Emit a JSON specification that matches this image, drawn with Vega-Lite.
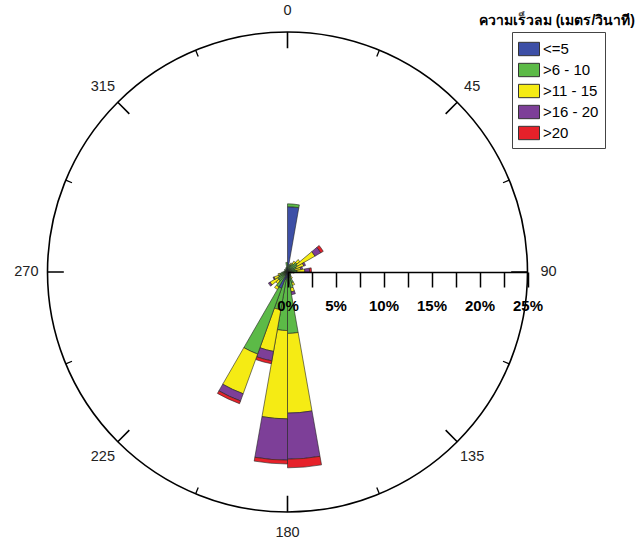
{
  "$schema": "https://vega.github.io/schema/vega-lite/v6.json",
  "autosize": "none",
  "width": 575,
  "height": 534,
  "padding": {"left": 0, "top": 5, "right": 64, "bottom": 0},
  "background": "white",
  "config": {"view": {"stroke": null}, "font": "Liberation Sans"},
  "title": {
    "text": "ความเร็วลม (เมตร/วินาที)",
    "anchor": "end",
    "frame": "group",
    "orient": "top",
    "offset": 0,
    "dx": 60,
    "dy": 36,
    "baseline": "alphabetic",
    "fontSize": 14,
    "fontWeight": "bold",
    "color": "black",
    "font": "Liberation Sans, DejaVu Sans, sans-serif"
  },
  "datasets": {
    "rose": [
      {"d0": 0, "d1": 10, "s": "<=5", "k": 1, "v": 6.8},
      {"d0": 0, "d1": 10, "s": ">6 - 10", "k": 2, "v": 0.3},
      {"d0": 10, "d1": 20, "s": "<=5", "k": 1, "v": 0.3},
      {"d0": 10, "d1": 20, "s": ">6 - 10", "k": 2, "v": 0.5},
      {"d0": 20, "d1": 30, "s": ">6 - 10", "k": 2, "v": 0.8},
      {"d0": 20, "d1": 30, "s": ">11 - 15", "k": 3, "v": 0.2},
      {"d0": 30, "d1": 40, "s": ">6 - 10", "k": 2, "v": 1.0},
      {"d0": 30, "d1": 40, "s": ">11 - 15", "k": 3, "v": 0.3},
      {"d0": 40, "d1": 50, "s": ">6 - 10", "k": 2, "v": 1.3},
      {"d0": 40, "d1": 50, "s": ">11 - 15", "k": 3, "v": 0.4},
      {"d0": 50, "d1": 60, "s": ">6 - 10", "k": 2, "v": 1.2},
      {"d0": 50, "d1": 60, "s": ">11 - 15", "k": 3, "v": 2.1},
      {"d0": 50, "d1": 60, "s": ">16 - 20", "k": 4, "v": 0.7},
      {"d0": 50, "d1": 60, "s": ">20", "k": 5, "v": 0.3},
      {"d0": 60, "d1": 70, "s": ">6 - 10", "k": 2, "v": 1.0},
      {"d0": 60, "d1": 70, "s": ">11 - 15", "k": 3, "v": 0.8},
      {"d0": 60, "d1": 70, "s": ">16 - 20", "k": 4, "v": 0.2},
      {"d0": 70, "d1": 80, "s": ">6 - 10", "k": 2, "v": 0.8},
      {"d0": 70, "d1": 80, "s": ">11 - 15", "k": 3, "v": 0.6},
      {"d0": 70, "d1": 80, "s": ">16 - 20", "k": 4, "v": 0.2},
      {"d0": 80, "d1": 90, "s": ">6 - 10", "k": 2, "v": 1.0},
      {"d0": 80, "d1": 90, "s": ">11 - 15", "k": 3, "v": 0.8},
      {"d0": 80, "d1": 90, "s": ">16 - 20", "k": 4, "v": 0.5},
      {"d0": 80, "d1": 90, "s": ">20", "k": 5, "v": 0.2},
      {"d0": 90, "d1": 100, "s": ">6 - 10", "k": 2, "v": 0.5},
      {"d0": 90, "d1": 100, "s": ">11 - 15", "k": 3, "v": 0.2},
      {"d0": 100, "d1": 110, "s": ">6 - 10", "k": 2, "v": 0.4},
      {"d0": 110, "d1": 120, "s": ">6 - 10", "k": 2, "v": 0.3},
      {"d0": 120, "d1": 130, "s": ">6 - 10", "k": 2, "v": 0.4},
      {"d0": 130, "d1": 140, "s": ">6 - 10", "k": 2, "v": 0.5},
      {"d0": 140, "d1": 150, "s": ">6 - 10", "k": 2, "v": 0.6},
      {"d0": 140, "d1": 150, "s": ">11 - 15", "k": 3, "v": 0.2},
      {"d0": 150, "d1": 160, "s": "<=5", "k": 1, "v": 0.2},
      {"d0": 150, "d1": 160, "s": ">6 - 10", "k": 2, "v": 1.0},
      {"d0": 150, "d1": 160, "s": ">11 - 15", "k": 3, "v": 0.3},
      {"d0": 160, "d1": 170, "s": "<=5", "k": 1, "v": 0.3},
      {"d0": 160, "d1": 170, "s": ">6 - 10", "k": 2, "v": 1.4},
      {"d0": 160, "d1": 170, "s": ">11 - 15", "k": 3, "v": 0.4},
      {"d0": 160, "d1": 170, "s": ">16 - 20", "k": 4, "v": 0.3},
      {"d0": 170, "d1": 180, "s": "<=5", "k": 1, "v": 0.5},
      {"d0": 170, "d1": 180, "s": ">6 - 10", "k": 2, "v": 5.9},
      {"d0": 170, "d1": 180, "s": ">11 - 15", "k": 3, "v": 8.3},
      {"d0": 170, "d1": 180, "s": ">16 - 20", "k": 4, "v": 4.8},
      {"d0": 170, "d1": 180, "s": ">20", "k": 5, "v": 0.9},
      {"d0": 180, "d1": 190, "s": "<=5", "k": 1, "v": 0.6},
      {"d0": 180, "d1": 190, "s": ">6 - 10", "k": 2, "v": 5.5},
      {"d0": 180, "d1": 190, "s": ">11 - 15", "k": 3, "v": 9.2},
      {"d0": 180, "d1": 190, "s": ">16 - 20", "k": 4, "v": 4.3},
      {"d0": 180, "d1": 190, "s": ">20", "k": 5, "v": 0.4},
      {"d0": 190, "d1": 200, "s": "<=5", "k": 1, "v": 0.8},
      {"d0": 190, "d1": 200, "s": ">6 - 10", "k": 2, "v": 3.2},
      {"d0": 190, "d1": 200, "s": ">11 - 15", "k": 3, "v": 4.4},
      {"d0": 190, "d1": 200, "s": ">16 - 20", "k": 4, "v": 1.0},
      {"d0": 190, "d1": 200, "s": ">20", "k": 5, "v": 0.3},
      {"d0": 200, "d1": 210, "s": "<=5", "k": 1, "v": 1.8},
      {"d0": 200, "d1": 210, "s": ">6 - 10", "k": 2, "v": 7.3},
      {"d0": 200, "d1": 210, "s": ">11 - 15", "k": 3, "v": 4.4},
      {"d0": 200, "d1": 210, "s": ">16 - 20", "k": 4, "v": 0.8},
      {"d0": 200, "d1": 210, "s": ">20", "k": 5, "v": 0.3},
      {"d0": 210, "d1": 220, "s": "<=5", "k": 1, "v": 0.4},
      {"d0": 210, "d1": 220, "s": ">6 - 10", "k": 2, "v": 1.4},
      {"d0": 210, "d1": 220, "s": ">11 - 15", "k": 3, "v": 0.3},
      {"d0": 220, "d1": 230, "s": "<=5", "k": 1, "v": 0.2},
      {"d0": 220, "d1": 230, "s": ">6 - 10", "k": 2, "v": 1.0},
      {"d0": 220, "d1": 230, "s": ">11 - 15", "k": 3, "v": 0.4},
      {"d0": 230, "d1": 240, "s": ">6 - 10", "k": 2, "v": 1.2},
      {"d0": 230, "d1": 240, "s": ">11 - 15", "k": 3, "v": 0.9},
      {"d0": 230, "d1": 240, "s": ">16 - 20", "k": 4, "v": 0.2},
      {"d0": 240, "d1": 250, "s": ">6 - 10", "k": 2, "v": 1.0},
      {"d0": 240, "d1": 250, "s": ">11 - 15", "k": 3, "v": 0.5},
      {"d0": 240, "d1": 250, "s": ">16 - 20", "k": 4, "v": 0.1},
      {"d0": 250, "d1": 260, "s": ">6 - 10", "k": 2, "v": 0.8},
      {"d0": 250, "d1": 260, "s": ">11 - 15", "k": 3, "v": 0.2},
      {"d0": 260, "d1": 270, "s": ">6 - 10", "k": 2, "v": 0.6},
      {"d0": 270, "d1": 280, "s": ">6 - 10", "k": 2, "v": 0.4},
      {"d0": 280, "d1": 290, "s": ">6 - 10", "k": 2, "v": 0.3},
      {"d0": 290, "d1": 300, "s": ">6 - 10", "k": 2, "v": 0.3},
      {"d0": 300, "d1": 310, "s": ">6 - 10", "k": 2, "v": 0.4},
      {"d0": 310, "d1": 320, "s": ">6 - 10", "k": 2, "v": 0.3},
      {"d0": 320, "d1": 330, "s": ">6 - 10", "k": 2, "v": 0.3},
      {"d0": 330, "d1": 340, "s": ">6 - 10", "k": 2, "v": 0.4},
      {"d0": 340, "d1": 350, "s": ">6 - 10", "k": 2, "v": 0.5},
      {"d0": 350, "d1": 360, "s": "<=5", "k": 1, "v": 0.4},
      {"d0": 350, "d1": 360, "s": ">6 - 10", "k": 2, "v": 0.6}
    ],
    "major": [
      {"a": 0, "lab": "0"}, {"a": 45, "lab": "45"}, {"a": 90, "lab": "90"}, {"a": 135, "lab": "135"},
      {"a": 180, "lab": "180"}, {"a": 225, "lab": "225"}, {"a": 270, "lab": "270"}, {"a": 315, "lab": "315"}
    ],
    "minor": [
      {"a": 22.5}, {"a": 67.5}, {"a": 112.5}, {"a": 157.5},
      {"a": 202.5}, {"a": 247.5}, {"a": 292.5}, {"a": 337.5}
    ],
    "ring": [{"a0": 0, "a1": 360, "r": 25}],
    "pct": [{"p": 0}, {"p": 25}]
  },
  "layer": [
    {
      "data": {"name": "ring"},
      "mark": {"type": "arc", "fillOpacity": 0, "stroke": "black", "strokeWidth": 1.6},
      "encoding": {
        "theta": {"field": "a0", "type": "quantitative", "scale": {"domain": [0, 360], "range": [0, 6.283185307179586]}},
        "theta2": {"field": "a1"},
        "radius": {"field": "r", "type": "quantitative", "scale": {"type": "linear", "domain": [0, 25], "range": [0, 240], "zero": true, "nice": false}}
      }
    },
    {
      "data": {"name": "major"},
      "mark": {"type": "arc", "fillOpacity": 0, "stroke": "black", "strokeWidth": 1.6},
      "encoding": {
        "theta": {"field": "a", "type": "quantitative"},
        "theta2": {"field": "a"},
        "radius": {"datum": 25, "type": "quantitative"},
        "radius2": {"datum": 23.3}
      }
    },
    {
      "data": {"name": "minor"},
      "mark": {"type": "arc", "fillOpacity": 0, "stroke": "black", "strokeWidth": 1.3},
      "encoding": {
        "theta": {"field": "a", "type": "quantitative"},
        "theta2": {"field": "a"},
        "radius": {"datum": 25, "type": "quantitative"},
        "radius2": {"datum": 24.3}
      }
    },
    {
      "data": {"name": "pct"},
      "mark": {"type": "point", "opacity": 0},
      "encoding": {
        "x": {
          "field": "p", "type": "quantitative",
          "scale": {"domain": [0, 25], "range": [287.5, 527.5], "nice": false, "zero": true},
          "axis": {
            "orient": "bottom", "offset": -267, "title": null, "grid": false, "zindex": 1,
            "values": [0, 2.5, 5, 7.5, 10, 12.5, 15, 17.5, 20, 22.5, 25],
            "labelExpr": "datum.value % 5 === 0 ? datum.value + '%' : ''",
            "domain": true, "domainColor": "black", "domainWidth": 1.6,
            "ticks": true, "tickColor": "black", "tickWidth": 1.5, "tickSize": 15,
            "labelFont": "Liberation Sans", "labelFontSize": 15, "labelFontWeight": "bold",
            "labelColor": "black", "labelPadding": 11, "labelOverlap": false, "labelFlush": false
          }
        }
      }
    },
    {
      "data": {"name": "rose"},
      "transform": [
        {"stack": "v", "groupby": ["d0"], "sort": [{"field": "k", "order": "ascending"}], "as": ["r0", "r1"]}
      ],
      "mark": {"type": "arc", "stroke": "#222", "strokeWidth": 0.6},
      "encoding": {
        "theta": {"field": "d0", "type": "quantitative"},
        "theta2": {"field": "d1"},
        "radius": {"field": "r1", "type": "quantitative"},
        "radius2": {"field": "r0"},
        "color": {
          "field": "s", "type": "nominal",
          "scale": {
            "domain": ["<=5", ">6 - 10", ">11 - 15", ">16 - 20", ">20"],
            "range": ["#3d4fa6", "#5cba47", "#f5eb14", "#7d3f98", "#e6212a"]
          },
          "legend": {
            "orient": "none", "legendX": 512, "legendY": 27, "title": null,
            "strokeColor": "#444", "fillColor": "white", "padding": 6,
            "symbolType": "M-1,-0.636H1V0.636H-1Z", "symbolSize": 441,
            "symbolStrokeColor": "#333", "symbolStrokeWidth": 1, "symbolOpacity": 1,
            "labelFont": "Liberation Sans", "labelFontSize": 15, "labelColor": "black",
            "labelOffset": 3, "rowPadding": 1
          }
        }
      }
    },
    {
      "data": {"name": "major"},
      "mark": {"type": "text", "fontSize": 14.5, "font": "Liberation Sans", "color": "#222", "align": "center", "baseline": "middle"},
      "encoding": {
        "theta": {"field": "a", "type": "quantitative"},
        "radius": {"datum": 27.2, "type": "quantitative"},
        "text": {"field": "lab"}
      }
    }
  ]
}
